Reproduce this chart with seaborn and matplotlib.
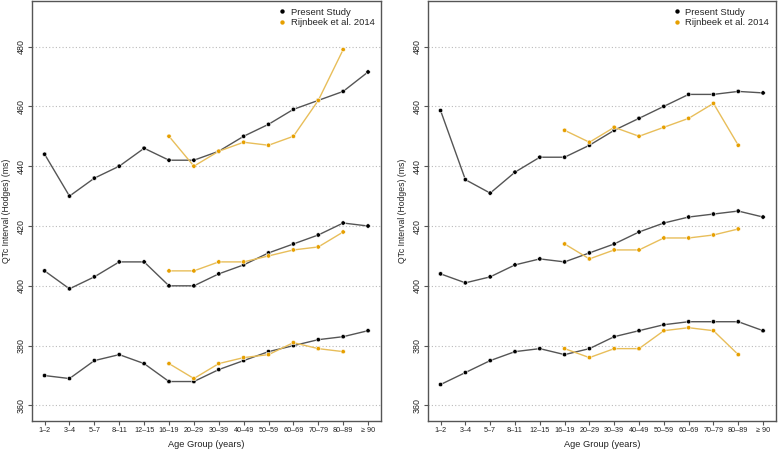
import numpy as np
import pandas as pd
import matplotlib
matplotlib.use("Agg")
import matplotlib.pyplot as plt
import seaborn as sns

AGE_GROUPS = ["1–2", "3–4", "5–7", "8–11", "12–15", "16–19", "20–29", "30–39",
              "40–49", "50–59", "60–69", "70–79", "80–89", "≥ 90"]
RIJN_GROUPS = AGE_GROUPS[5:13]

# left panel: present study (upper / median / lower curves)
left_present = {
    "upper": [444, 430, 436, 440, 446, 442, 442, 445, 450, 454, 459, 462, 465, 471.5],
    "mid":   [405, 399, 403, 408, 408, 400, 400, 404, 407, 411, 414, 417, 421, 420],
    "lower": [370, 369, 375, 377, 374, 368, 368, 372, 375, 378, 380, 382, 383, 385],
}
left_rijn = {
    "upper": [450, 440, 445, 448, 447, 450, 462, 479],
    "mid":   [405, 405, 408, 408, 410, 412, 413, 418],
    "lower": [374, 369, 374, 376, 377, 381, 379, 378],
}
# right panel
right_present = {
    "upper": [458.6, 435.5, 431, 438, 443, 443, 447, 452, 456, 460, 464, 464, 465, 464.5],
    "mid":   [404, 401, 403, 407, 409, 408, 411, 414, 418, 421, 423, 424, 425, 423],
    "lower": [367, 371, 375, 378, 379, 377, 379, 383, 385, 387, 388, 388, 388, 385],
}
right_rijn = {
    "upper": [452, 448, 453, 450, 453, 456, 461, 447],
    "mid":   [414, 409, 412, 412, 416, 416, 417, 419],
    "lower": [379, 376, 379, 379, 385, 386, 385, 377],
}

Y_TICKS = [360, 380, 400, 420, 440, 460, 480]
BLACK_PT, BLACK_LN = "#000000", "#555555"
ORANGE_PT, ORANGE_LN = "#E69F00", "#E8BE5A"


def to_long(present, rijn):
    rows = []
    for curve, vals in present.items():
        for g, v in zip(AGE_GROUPS, vals):
            rows.append({"study": "Present Study", "curve": curve, "x": AGE_GROUPS.index(g), "qtc": v})
    for curve, vals in rijn.items():
        for g, v in zip(RIJN_GROUPS, vals):
            rows.append({"study": "Rijnbeek et al. 2014", "curve": curve, "x": AGE_GROUPS.index(g), "qtc": v})
    return pd.DataFrame(rows)


sns.set_style("white")
plt.rcParams["font.family"] = ["Liberation Sans", "DejaVu Sans"]

fig = plt.figure(figsize=(7.78, 4.53), dpi=100)
ax_l = fig.add_axes([0.0407, 0.0706, 0.449, 0.927])
ax_r = fig.add_axes([0.5497, 0.0706, 0.4477, 0.927])

for ax, present, rijn in [(ax_l, left_present, left_rijn), (ax_r, right_present, right_rijn)]:
    df = to_long(present, rijn)
    for y in Y_TICKS:
        ax.axhline(y, color="#BBBBBB", lw=0.8, ls=(0, (1, 2)), zorder=0)
    for study, lc in [("Present Study", BLACK_LN), ("Rijnbeek et al. 2014", ORANGE_LN)]:
        sub = df[df["study"] == study]
        sns.lineplot(data=sub, x="x", y="qtc", units="curve", estimator=None,
                     color=lc, lw=1.0, ax=ax, legend=False, sort=False)
    sns.scatterplot(data=df, x="x", y="qtc", hue="study",
                    palette={"Present Study": BLACK_PT, "Rijnbeek et al. 2014": ORANGE_PT},
                    s=10, edgecolor="white", linewidth=0.4, ax=ax, zorder=3)
    ax.set_xlim(-0.52, 13.52)
    ax.set_ylim(354.8, 495.2)
    ax.set_xticks(range(len(AGE_GROUPS)))
    ax.set_xticklabels(AGE_GROUPS, fontsize=5.2, color="#222222")
    ax.set_yticks(Y_TICKS)
    ax.set_yticklabels([str(t) for t in Y_TICKS], fontsize=6.4, rotation=90, va="center",
                       color="#222222")
    ax.tick_params(axis="both", direction="out", length=2.9, width=0.8, color="#555555",
                   bottom=True, left=True)
    ax.tick_params(axis="x", pad=1.5)
    ax.tick_params(axis="y", pad=1.6)
    for s in ax.spines.values():
        s.set_color("#555555")
        s.set_linewidth(1.0)
    ax.set_xlabel("Age Group (years)", fontsize=6.7, labelpad=4.5, color="#222222")
    ax.set_ylabel("QTc Interval (Hodges) (ms)", fontsize=6.2, labelpad=3.8, color="#222222")
    leg = ax.legend(loc="upper right", frameon=False, fontsize=6.8, handletextpad=0.45,
                    borderaxespad=0.3, labelspacing=0.15, markerscale=1.0, handlelength=1.0)
    for h in leg.legend_handles:
        h.set_markeredgecolor("none")

fig.savefig("out.png", dpi=100)
